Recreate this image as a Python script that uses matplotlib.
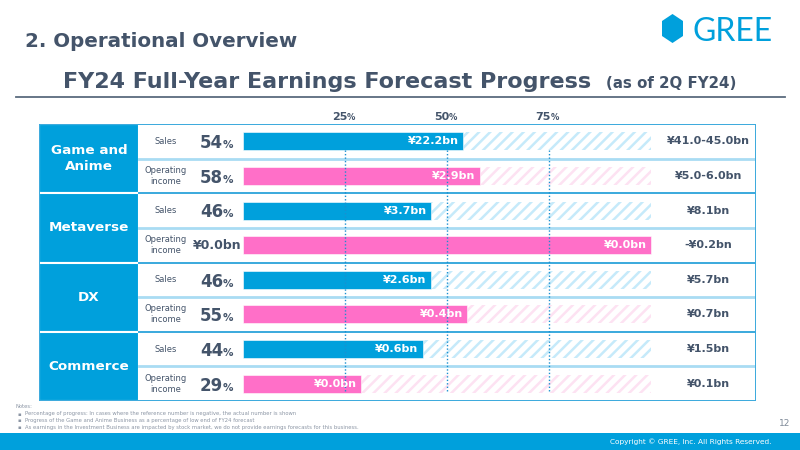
import matplotlib.pyplot as plt
from matplotlib.patches import Rectangle, Polygon

plt.rcParams['font.family'] = ['DejaVu Sans']
plt.rcParams['hatch.linewidth'] = 1.8

# data
segments = ['Game and\nAnime', 'Metaverse', 'DX', 'Commerce']
metrics = ['Sales', 'Operating\nincome'] * 4
bar_pct = [54, 58, 46, 100, 46, 55, 44, 29]
progress_num = ['54', '58', '46', '¥0.0bn', '46', '55', '44', '29']
actual = ['¥22.2bn', '¥2.9bn', '¥3.7bn', '¥0.0bn', '¥2.6bn', '¥0.4bn', '¥0.6bn', '¥0.0bn']
forecast = ['¥41.0-45.0bn', '¥5.0-6.0bn', '¥8.1bn', '-¥0.2bn',
            '¥5.7bn', '¥0.7bn', '¥1.5bn', '¥0.1bn']
marks = [25, 50, 75]

BLUE = '#00a0dc'
PINK = '#ff6fc8'
DARK = '#44546a'
LIGHT_BLUE = '#c6eafa'
LIGHT_PINK = '#fde2f2'

fig = plt.figure(figsize=(8, 4.5), dpi=100)

# background axes in pixel coordinates
bg = fig.add_axes([0, 0, 1, 1])
bg.set_xlim(0, 800)
bg.set_ylim(450, 0)
bg.axis('off')

bg.text(25, 47, '2. Operational Overview', fontsize=14.3, fontweight='bold', color=DARK)
bg.text(63, 88, 'FY24 Full-Year Earnings Forecast Progress', fontsize=16,
        fontweight='bold', color=DARK)
bg.text(736, 88, '(as of 2Q FY24)', fontsize=10.8, fontweight='bold', color=DARK, ha='right')
bg.plot([16, 785], [96.5, 96.5], color='#5b6b7e', lw=1.3)

# logo
bg.add_patch(Polygon([(672.5, 14), (683, 21), (683, 36), (672.5, 43), (662, 36), (662, 21)],
                     closed=True, color=BLUE, lw=0))
bg.text(692, 41, 'GREE', fontsize=23, color=BLUE, family='Lato')

# footer
bg.add_patch(Rectangle((0, 433), 800, 17, color=BLUE, lw=0))
bg.text(771, 442, 'Copyright © GREE, Inc. All Rights Reserved.', fontsize=5.3,
        color='white', ha='right', va='center')
bg.text(790, 424, '12', fontsize=6.5, color='#7f8a98', ha='right', va='center')

notes = ['Percentage of progress: In cases where the reference number is negative, the actual number is shown',
         'Progress of the Game and Anime Business as a percentage of low end of FY24 forecast',
         'As earnings in the Investment Business are impacted by stock market, we do not provide earnings forecasts for this business.']
NOTE_C = '#8c96a5'
bg.text(16, 407, 'Notes:', fontsize=3.8, color=NOTE_C, va='center')
for i, n in enumerate(notes):
    y = 414 + i * 6.8
    bg.text(17, y, '▪', fontsize=3.8, color=NOTE_C, va='center')
    bg.text(25, y, n, fontsize=3.8, color=NOTE_C, va='center')

# table axes: x in percent of forecast (0 -> 243px, 100 -> 651px)
x0, x1 = -50, 125.74
ax = fig.add_axes([39 / 800, 1 - 401 / 450, 717 / 800, 277 / 450])
ax.set_xlim(x0, x1)
ax.set_ylim(8, 0)
ax.axis('off')

rows = [i + 0.5 for i in range(8)]
colors = [BLUE if m == 'Sales' else PINK for m in metrics]
hatch_c = [LIGHT_BLUE if m == 'Sales' else LIGHT_PINK for m in metrics]

# category cells
cat_right = -25.5
for k, seg in enumerate(segments):
    ax.add_patch(Rectangle((x0, 2 * k), cat_right - x0, 2, facecolor=BLUE,
                           edgecolor='white', lw=1.5, zorder=1))
    ax.text((x0 + cat_right) / 2, 2 * k + 1, seg, ha='center', va='center', color='white',
            fontsize=9.7, fontweight='bold', linespacing=1.25)

# row separators
for i in range(1, 8):
    if i % 2:
        ax.plot([cat_right, x1], [i, i], color='#a9dcf3', lw=2, zorder=1)
    else:
        ax.plot([cat_right, x1], [i, i], color='#3aa9dd', lw=1.4, zorder=1)
ax.add_patch(Rectangle((x0, 0), x1 - x0, 8, fill=False, edgecolor='#3aa9dd', lw=1.4, zorder=3))

# hatched remainder then solid progress bars
rest = [100 - v for v in bar_pct]
ax.barh(rows, rest, left=bar_pct, height=0.52, facecolor='white', edgecolor=hatch_c,
        hatch='///', lw=0, zorder=2)
ax.barh(rows, bar_pct, height=0.52, color=colors, edgecolor='white', lw=0.4, zorder=2)

for y, v, lab in zip(rows, bar_pct, actual):
    ax.text(v - 1, y, lab, ha='right', va='center', color='white', fontsize=8,
            fontweight='bold', zorder=5)

# progress column, metric labels and forecasts
for y, m, num, fc in zip(rows, metrics, progress_num, forecast):
    ax.text(-18.9, y, m, ha='center', va='center', color=DARK, fontsize=6, linespacing=1.3)
    if num.startswith('¥'):
        ax.text(-6.4, y, num, ha='center', va='center', color=DARK, fontsize=9,
                fontweight='bold')
    else:
        ax.text(-4.9, y + 0.2, num, ha='right', va='baseline', color=DARK, fontsize=12,
                fontweight='bold')
        ax.text(-4.9, y + 0.2, '%', ha='left', va='baseline', color=DARK, fontsize=7.5,
                fontweight='bold')
    ax.text(114, y, fc, ha='center', va='center', color=DARK, fontsize=8, fontweight='bold')

# reference lines at 25 / 50 / 75 %
for m in marks:
    ax.plot([m, m], [0.76, 7.76], color='#1a8fd0', lw=1, ls=(0, (1, 1.5)), zorder=4)
    ax.text(m + 0.5, -0.12, str(m), ha='right', va='baseline', color=DARK, fontsize=8,
            fontweight='bold', clip_on=False)
    ax.text(m + 0.5, -0.12, '%', ha='left', va='baseline', color=DARK, fontsize=6,
            fontweight='bold', clip_on=False)

fig.savefig('out.png', dpi=100)
